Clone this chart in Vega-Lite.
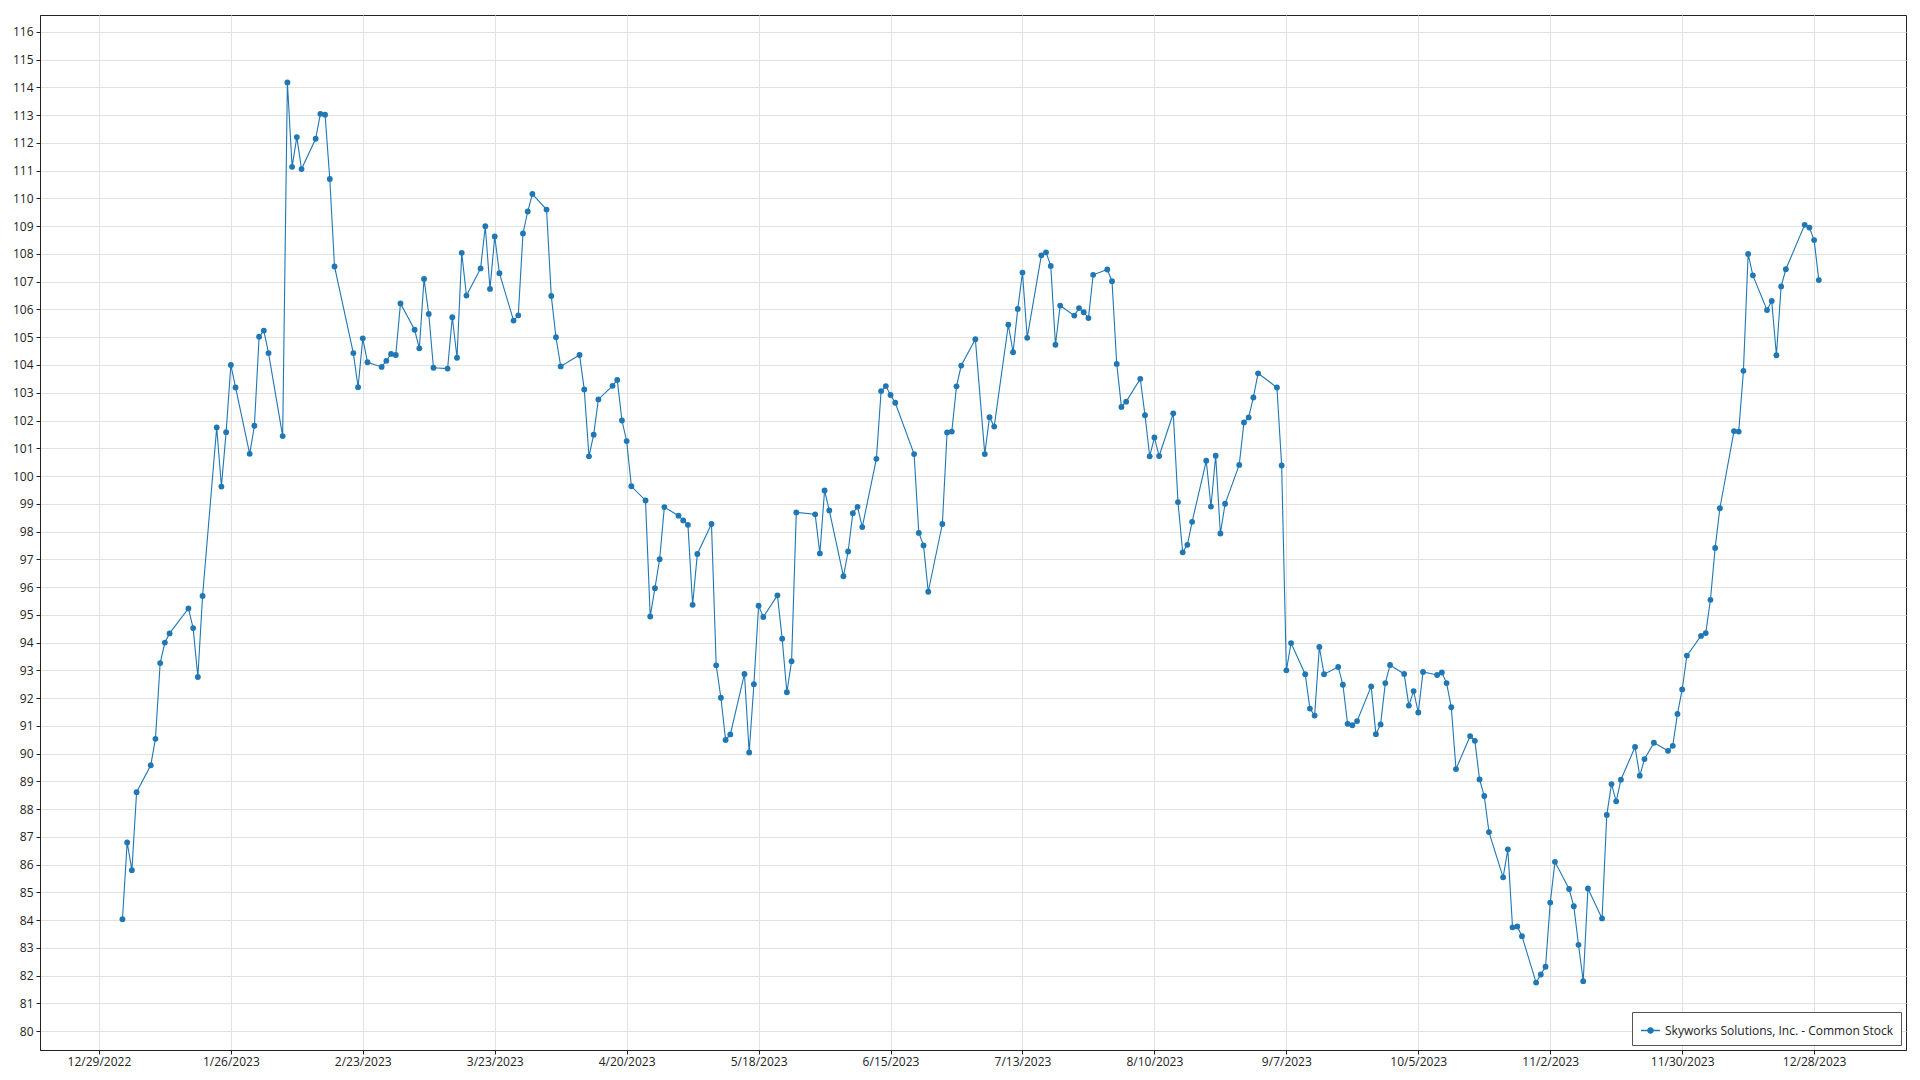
{
  "$schema": "https://vega.github.io/schema/vega-lite/v6.json",
  "autosize": {"type": "none"},
  "width": 1866,
  "height": 1035,
  "padding": {"left": 40, "top": 15, "right": 14, "bottom": 30},
  "background": "white",
  "config": {
    "font": "Open Sans",
    "view": {"stroke": "#222222", "strokeWidth": 1},
    "axis": {
      "labelFont": "Open Sans",
      "labelFontSize": 12,
      "labelColor": "#222222",
      "domainColor": "#222222",
      "tickColor": "#222222",
      "tickSize": 4,
      "gridColor": "#e2e2e2",
      "gridWidth": 1,
      "title": null
    }
  },
  "data": {
    "values": [
      {"date": "2023-01-03", "close": 84.03}, {"date": "2023-01-04", "close": 86.80}, {"date": "2023-01-05", "close": 85.80}, {"date": "2023-01-06", "close": 88.61},
      {"date": "2023-01-09", "close": 89.58}, {"date": "2023-01-10", "close": 90.53}, {"date": "2023-01-11", "close": 93.26}, {"date": "2023-01-12", "close": 94.00},
      {"date": "2023-01-13", "close": 94.33}, {"date": "2023-01-17", "close": 95.23}, {"date": "2023-01-18", "close": 94.52}, {"date": "2023-01-19", "close": 92.76},
      {"date": "2023-01-20", "close": 95.68}, {"date": "2023-01-23", "close": 101.75}, {"date": "2023-01-24", "close": 99.62}, {"date": "2023-01-25", "close": 101.58},
      {"date": "2023-01-26", "close": 104.00}, {"date": "2023-01-27", "close": 103.19}, {"date": "2023-01-30", "close": 100.80}, {"date": "2023-01-31", "close": 101.81},
      {"date": "2023-02-01", "close": 105.02}, {"date": "2023-02-02", "close": 105.24}, {"date": "2023-02-03", "close": 104.43}, {"date": "2023-02-06", "close": 101.44},
      {"date": "2023-02-07", "close": 114.18}, {"date": "2023-02-08", "close": 111.14}, {"date": "2023-02-09", "close": 112.21}, {"date": "2023-02-10", "close": 111.06},
      {"date": "2023-02-13", "close": 112.15}, {"date": "2023-02-14", "close": 113.05}, {"date": "2023-02-15", "close": 113.02}, {"date": "2023-02-16", "close": 110.70},
      {"date": "2023-02-17", "close": 107.55}, {"date": "2023-02-21", "close": 104.43}, {"date": "2023-02-22", "close": 103.20}, {"date": "2023-02-23", "close": 104.96},
      {"date": "2023-02-24", "close": 104.10}, {"date": "2023-02-27", "close": 103.93}, {"date": "2023-02-28", "close": 104.15},
      {"date": "2023-03-01", "close": 104.40}, {"date": "2023-03-02", "close": 104.36}, {"date": "2023-03-03", "close": 106.22}, {"date": "2023-03-06", "close": 105.27},
      {"date": "2023-03-07", "close": 104.60}, {"date": "2023-03-08", "close": 107.10}, {"date": "2023-03-09", "close": 105.84}, {"date": "2023-03-10", "close": 103.90},
      {"date": "2023-03-13", "close": 103.87}, {"date": "2023-03-14", "close": 105.72}, {"date": "2023-03-15", "close": 104.26}, {"date": "2023-03-16", "close": 108.04},
      {"date": "2023-03-17", "close": 106.50}, {"date": "2023-03-20", "close": 107.48}, {"date": "2023-03-21", "close": 109.00}, {"date": "2023-03-22", "close": 106.74},
      {"date": "2023-03-23", "close": 108.63}, {"date": "2023-03-24", "close": 107.31}, {"date": "2023-03-27", "close": 105.60}, {"date": "2023-03-28", "close": 105.79},
      {"date": "2023-03-29", "close": 108.74}, {"date": "2023-03-30", "close": 109.53}, {"date": "2023-03-31", "close": 110.16},
      {"date": "2023-04-03", "close": 109.60}, {"date": "2023-04-04", "close": 106.49}, {"date": "2023-04-05", "close": 105.00}, {"date": "2023-04-06", "close": 103.95},
      {"date": "2023-04-10", "close": 104.36}, {"date": "2023-04-11", "close": 103.12}, {"date": "2023-04-12", "close": 100.71}, {"date": "2023-04-13", "close": 101.49},
      {"date": "2023-04-14", "close": 102.76}, {"date": "2023-04-17", "close": 103.25}, {"date": "2023-04-18", "close": 103.46}, {"date": "2023-04-19", "close": 102.00},
      {"date": "2023-04-20", "close": 101.26}, {"date": "2023-04-21", "close": 99.63}, {"date": "2023-04-24", "close": 99.12}, {"date": "2023-04-25", "close": 94.94},
      {"date": "2023-04-26", "close": 95.96}, {"date": "2023-04-27", "close": 97.00}, {"date": "2023-04-28", "close": 98.88},
      {"date": "2023-05-01", "close": 98.57}, {"date": "2023-05-02", "close": 98.40}, {"date": "2023-05-03", "close": 98.24}, {"date": "2023-05-04", "close": 95.36},
      {"date": "2023-05-05", "close": 97.19}, {"date": "2023-05-08", "close": 98.27}, {"date": "2023-05-09", "close": 93.18}, {"date": "2023-05-10", "close": 92.01},
      {"date": "2023-05-11", "close": 90.49}, {"date": "2023-05-12", "close": 90.69}, {"date": "2023-05-15", "close": 92.87}, {"date": "2023-05-16", "close": 90.04},
      {"date": "2023-05-17", "close": 92.50}, {"date": "2023-05-18", "close": 95.33}, {"date": "2023-05-19", "close": 94.92}, {"date": "2023-05-22", "close": 95.70},
      {"date": "2023-05-23", "close": 94.14}, {"date": "2023-05-24", "close": 92.21}, {"date": "2023-05-25", "close": 93.33}, {"date": "2023-05-26", "close": 98.69},
      {"date": "2023-05-30", "close": 98.62}, {"date": "2023-05-31", "close": 97.21},
      {"date": "2023-06-01", "close": 99.48}, {"date": "2023-06-02", "close": 98.76}, {"date": "2023-06-05", "close": 96.39}, {"date": "2023-06-06", "close": 97.28},
      {"date": "2023-06-07", "close": 98.66}, {"date": "2023-06-08", "close": 98.89}, {"date": "2023-06-09", "close": 98.16}, {"date": "2023-06-12", "close": 100.62},
      {"date": "2023-06-13", "close": 103.06}, {"date": "2023-06-14", "close": 103.24}, {"date": "2023-06-15", "close": 102.92}, {"date": "2023-06-16", "close": 102.64},
      {"date": "2023-06-20", "close": 100.79}, {"date": "2023-06-21", "close": 97.95}, {"date": "2023-06-22", "close": 97.50}, {"date": "2023-06-23", "close": 95.83},
      {"date": "2023-06-26", "close": 98.27}, {"date": "2023-06-27", "close": 101.57}, {"date": "2023-06-28", "close": 101.60}, {"date": "2023-06-29", "close": 103.23},
      {"date": "2023-06-30", "close": 103.98},
      {"date": "2023-07-03", "close": 104.93}, {"date": "2023-07-05", "close": 100.79}, {"date": "2023-07-06", "close": 102.12}, {"date": "2023-07-07", "close": 101.78},
      {"date": "2023-07-10", "close": 105.45}, {"date": "2023-07-11", "close": 104.46}, {"date": "2023-07-12", "close": 106.02}, {"date": "2023-07-13", "close": 107.33},
      {"date": "2023-07-14", "close": 104.98}, {"date": "2023-07-17", "close": 107.95}, {"date": "2023-07-18", "close": 108.06}, {"date": "2023-07-19", "close": 107.57},
      {"date": "2023-07-20", "close": 104.73}, {"date": "2023-07-21", "close": 106.14}, {"date": "2023-07-24", "close": 105.78}, {"date": "2023-07-25", "close": 106.05},
      {"date": "2023-07-26", "close": 105.90}, {"date": "2023-07-27", "close": 105.69}, {"date": "2023-07-28", "close": 107.25}, {"date": "2023-07-31", "close": 107.44},
      {"date": "2023-08-01", "close": 107.02}, {"date": "2023-08-02", "close": 104.04}, {"date": "2023-08-03", "close": 102.49}, {"date": "2023-08-04", "close": 102.68},
      {"date": "2023-08-07", "close": 103.50}, {"date": "2023-08-08", "close": 102.19}, {"date": "2023-08-09", "close": 100.71}, {"date": "2023-08-10", "close": 101.39},
      {"date": "2023-08-11", "close": 100.72}, {"date": "2023-08-14", "close": 102.26}, {"date": "2023-08-15", "close": 99.06}, {"date": "2023-08-16", "close": 97.25},
      {"date": "2023-08-17", "close": 97.52}, {"date": "2023-08-18", "close": 98.35}, {"date": "2023-08-21", "close": 100.55}, {"date": "2023-08-22", "close": 98.90},
      {"date": "2023-08-23", "close": 100.73}, {"date": "2023-08-24", "close": 97.93}, {"date": "2023-08-25", "close": 99.00}, {"date": "2023-08-28", "close": 100.40},
      {"date": "2023-08-29", "close": 101.93}, {"date": "2023-08-30", "close": 102.11}, {"date": "2023-08-31", "close": 102.83},
      {"date": "2023-09-01", "close": 103.70}, {"date": "2023-09-05", "close": 103.19}, {"date": "2023-09-06", "close": 100.38}, {"date": "2023-09-07", "close": 93.00},
      {"date": "2023-09-08", "close": 93.98}, {"date": "2023-09-11", "close": 92.86}, {"date": "2023-09-12", "close": 91.62}, {"date": "2023-09-13", "close": 91.37},
      {"date": "2023-09-14", "close": 93.84}, {"date": "2023-09-15", "close": 92.86}, {"date": "2023-09-18", "close": 93.12}, {"date": "2023-09-19", "close": 92.48},
      {"date": "2023-09-20", "close": 91.07}, {"date": "2023-09-21", "close": 91.02}, {"date": "2023-09-22", "close": 91.17}, {"date": "2023-09-25", "close": 92.42},
      {"date": "2023-09-26", "close": 90.70}, {"date": "2023-09-27", "close": 91.05}, {"date": "2023-09-28", "close": 92.54}, {"date": "2023-09-29", "close": 93.19},
      {"date": "2023-10-02", "close": 92.87}, {"date": "2023-10-03", "close": 91.73}, {"date": "2023-10-04", "close": 92.25}, {"date": "2023-10-05", "close": 91.48},
      {"date": "2023-10-06", "close": 92.94}, {"date": "2023-10-09", "close": 92.83}, {"date": "2023-10-10", "close": 92.92}, {"date": "2023-10-11", "close": 92.54},
      {"date": "2023-10-12", "close": 91.67}, {"date": "2023-10-13", "close": 89.44}, {"date": "2023-10-16", "close": 90.63}, {"date": "2023-10-17", "close": 90.46},
      {"date": "2023-10-18", "close": 89.07}, {"date": "2023-10-19", "close": 88.47}, {"date": "2023-10-20", "close": 87.17}, {"date": "2023-10-23", "close": 85.54},
      {"date": "2023-10-24", "close": 86.55}, {"date": "2023-10-25", "close": 83.74}, {"date": "2023-10-26", "close": 83.77}, {"date": "2023-10-27", "close": 83.42},
      {"date": "2023-10-30", "close": 81.75}, {"date": "2023-10-31", "close": 82.04},
      {"date": "2023-11-01", "close": 82.32}, {"date": "2023-11-02", "close": 84.63}, {"date": "2023-11-03", "close": 86.10}, {"date": "2023-11-06", "close": 85.12},
      {"date": "2023-11-07", "close": 84.50}, {"date": "2023-11-08", "close": 83.11}, {"date": "2023-11-09", "close": 81.80}, {"date": "2023-11-10", "close": 85.14},
      {"date": "2023-11-13", "close": 84.06}, {"date": "2023-11-14", "close": 87.79}, {"date": "2023-11-15", "close": 88.90}, {"date": "2023-11-16", "close": 88.28},
      {"date": "2023-11-17", "close": 89.06}, {"date": "2023-11-20", "close": 90.24}, {"date": "2023-11-21", "close": 89.20}, {"date": "2023-11-22", "close": 89.80},
      {"date": "2023-11-24", "close": 90.39}, {"date": "2023-11-27", "close": 90.10}, {"date": "2023-11-28", "close": 90.28}, {"date": "2023-11-29", "close": 91.43},
      {"date": "2023-11-30", "close": 92.31},
      {"date": "2023-12-01", "close": 93.53}, {"date": "2023-12-04", "close": 94.24}, {"date": "2023-12-05", "close": 94.34}, {"date": "2023-12-06", "close": 95.54},
      {"date": "2023-12-07", "close": 97.41}, {"date": "2023-12-08", "close": 98.84}, {"date": "2023-12-11", "close": 101.62}, {"date": "2023-12-12", "close": 101.60},
      {"date": "2023-12-13", "close": 103.79}, {"date": "2023-12-14", "close": 108.00}, {"date": "2023-12-15", "close": 107.23}, {"date": "2023-12-18", "close": 105.98},
      {"date": "2023-12-19", "close": 106.31}, {"date": "2023-12-20", "close": 104.35}, {"date": "2023-12-21", "close": 106.83}, {"date": "2023-12-22", "close": 107.45},
      {"date": "2023-12-26", "close": 109.05}, {"date": "2023-12-27", "close": 108.95}, {"date": "2023-12-28", "close": 108.50}, {"date": "2023-12-29", "close": 107.06}
    ]
  },
  "encoding": {
    "x": {
      "field": "date",
      "type": "temporal",
      "scale": {
        "type": "utc",
        "domain": [
          {"year": 2022, "month": 12, "date": 16, "hours": 12, "utc": true},
          {"year": 2024, "month": 1, "date": 16, "hours": 12, "utc": true}
        ]
      },
      "axis": {
        "values": [
          {"year": 2022, "month": 12, "date": 29, "utc": true},
          {"year": 2023, "month": 1, "date": 26, "utc": true},
          {"year": 2023, "month": 2, "date": 23, "utc": true},
          {"year": 2023, "month": 3, "date": 23, "utc": true},
          {"year": 2023, "month": 4, "date": 20, "utc": true},
          {"year": 2023, "month": 5, "date": 18, "utc": true},
          {"year": 2023, "month": 6, "date": 15, "utc": true},
          {"year": 2023, "month": 7, "date": 13, "utc": true},
          {"year": 2023, "month": 8, "date": 10, "utc": true},
          {"year": 2023, "month": 9, "date": 7, "utc": true},
          {"year": 2023, "month": 10, "date": 5, "utc": true},
          {"year": 2023, "month": 11, "date": 2, "utc": true},
          {"year": 2023, "month": 11, "date": 30, "utc": true},
          {"year": 2023, "month": 12, "date": 28, "utc": true}
        ],
        "format": "%-m/%-d/%Y",
        "labelPadding": 2,
        "labelOverlap": false,
        "labelFlush": false
      }
    },
    "y": {
      "field": "close",
      "type": "quantitative",
      "scale": {"domain": [79.32, 116.61], "nice": false, "zero": false},
      "axis": {
        "values": [80,81,82,83,84,85,86,87,88,89,90,91,92,93,94,95,96,97,98,99,100,101,102,103,104,105,106,107,108,109,110,111,112,113,114,115,116],
        "labelPadding": 3,
        "labelOverlap": false,
        "labelFlush": false
      }
    }
  },
  "layer": [
    {
      "mark": {"type": "line", "strokeWidth": 1.1, "color": "#1f77b4"},
      "encoding": {
        "color": {
          "datum": "Skyworks Solutions, Inc. - Common Stock",
          "type": "nominal",
          "scale": {"range": ["#1f77b4"]},
          "legend": {
            "title": null,
            "orient": "bottom-right",
            "offset": 5,
            "padding": 8,
            "fillColor": "white",
            "strokeColor": "#555555",
            "cornerRadius": 0,
            "labelFont": "Open Sans",
            "labelFontSize": 12,
            "labelColor": "#222222",
            "labelLimit": 400,
            "symbolType": "M-1,0H1M-0.28,0A0.28,0.28 0 1,1 0.28,0A0.28,0.28 0 1,1 -0.28,0Z",
            "symbolSize": 361,
            "symbolStrokeWidth": 1.3,
            "encode": {"symbols": {"update": {"fill": {"value": "#1f77b4"}, "stroke": {"value": "#1f77b4"}, "fillOpacity": {"value": 1}}}}
          }
        }
      }
    },
    {
      "mark": {"type": "point", "filled": true, "size": 34, "opacity": 1, "color": "#1f77b4"}
    }
  ]
}
